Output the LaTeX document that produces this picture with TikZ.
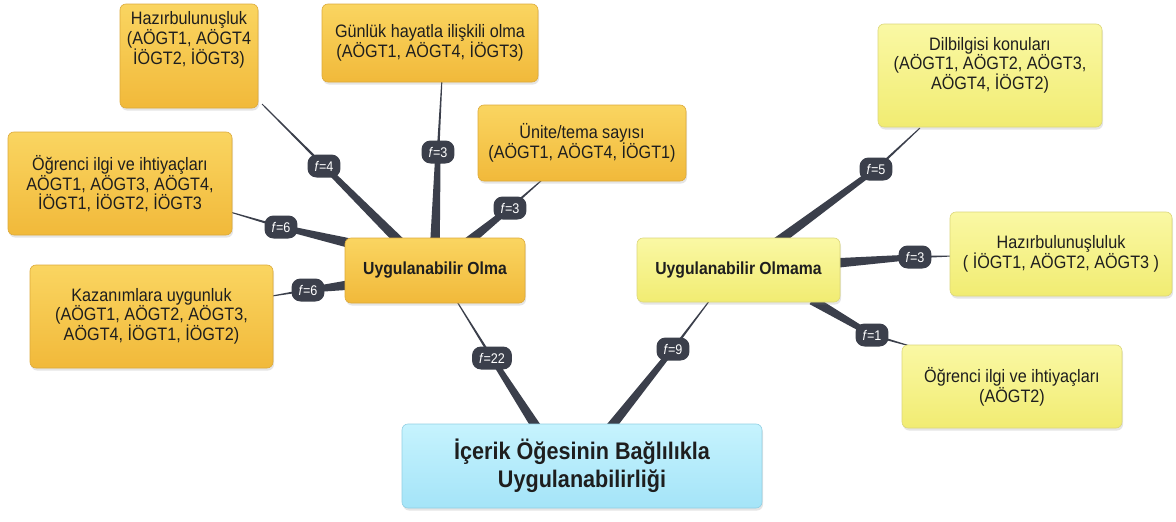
\documentclass[tikz,border=0pt]{standalone}
\usepackage{fontspec}
\setmainfont[FakeStretch=0.9]{Liberation Sans}
\usetikzlibrary{calc,shadows}
\definecolor{orgtop}{HTML}{FAD561}
\definecolor{orgbot}{HTML}{F1B93A}
\definecolor{orgline}{HTML}{DDAA3A}
\definecolor{yeltop}{HTML}{FAF8A4}
\definecolor{yelbot}{HTML}{F1EC72}
\definecolor{yelline}{HTML}{DCD77A}
\definecolor{cyntop}{HTML}{C6F3FE}
\definecolor{cynbot}{HTML}{A4E4F8}
\definecolor{cynline}{HTML}{92D0E4}
\definecolor{linkcol}{HTML}{3B3F4B}
\definecolor{txt}{HTML}{1E1E1E}
\pgfdeclarelayer{bg}
\pgfdeclarelayer{links}
\pgfsetlayers{bg,links,main}
\newcommand\mmtaper[4]{\fill[linkcol] ($(#1)!#3!90:(#2)$) -- ($(#2)!#4!-90:(#1)$) -- ($(#2)!#4!90:(#1)$) -- ($(#1)!#3!-90:(#2)$) -- cycle;}
\newcommand\mmlink[3]{\mmtaper{#1}{#2}{4.8pt}{2.6pt}\mmtaper{#2}{#3}{1.3pt}{0.5pt}}
\tikzset{
  box/.style={rounded corners=6pt, draw, line width=0.6pt, align=center, inner sep=0pt,
    font=\fontsize{18}{18.8}\selectfont, text=txt,
    drop shadow={opacity=0.2, shadow xshift=1pt, shadow yshift=-2.5pt}},
  orgbox/.style={box, draw=orgline, top color=orgtop, bottom color=orgbot},
  yelbox/.style={box, draw=yelline, top color=yeltop, bottom color=yelbot},
  cynbox/.style={box, draw=cynline, top color=cyntop, bottom color=cynbot},
  badge/.style={fill=linkcol, text=white, rounded corners=9pt, minimum height=23pt,
    inner xsep=7pt, inner ysep=0pt, font=\fontsize{14}{15}\selectfont},
}
\newcommand\fv[1]{\textit{f}=#1}
\begin{document}
\begin{tikzpicture}[x=1pt,y=-1pt]
\begin{pgfonlayer}{bg}
\fill[white] (0,0) rectangle (1176,522);
\end{pgfonlayer}
\useasboundingbox (0,0) rectangle (1176,522);

% main nodes
\node[cynbox, minimum width=360pt, minimum height=84pt, font=\fontsize{24}{28}\selectfont\bfseries] (root) at (582,466)
  {İçerik Öğesinin Bağlılıkla\\Uygulanabilirliği};
\node[orgbox, minimum width=180pt, minimum height=65pt, font=\fontsize{17.5}{19}\selectfont\bfseries] (olma) at (435,270.5) {Uygulanabilir Olma};
\node[yelbox, minimum width=203pt, minimum height=64pt, font=\fontsize{17.5}{19}\selectfont\bfseries] (olmama) at (738.5,270) {Uygulanabilir Olmama};

% left children
\node[orgbox, minimum width=138pt, minimum height=104pt] (hazL) at (189,56)
  {Hazırbulunuşluk\\(AÖGT1, AÖGT4\\İÖGT2, İÖGT3)\\[12pt]\strut};
\node[orgbox, minimum width=216pt, minimum height=78pt] (gunluk) at (430,43)
  {Günlük hayatla ilişkili olma\\(AÖGT1, AÖGT4, İÖGT3)};
\node[orgbox, minimum width=208pt, minimum height=76pt] (unite) at (582,143)
  {Ünite/tema sayısı\\(AÖGT1, AÖGT4, İÖGT1)};
\node[orgbox, minimum width=224pt, minimum height=103pt] (ogrL) at (120,183.5)
  {Öğrenci ilgi ve ihtiyaçları\\AÖGT1, AÖGT3, AÖGT4,\\ İÖGT1, İÖGT2, İÖGT3};
\node[orgbox, minimum width=243pt, minimum height=103pt] (kaz) at (151.5,316.5)
  {Kazanımlara uygunluk\\(AÖGT1, AÖGT2, AÖGT3,\\AÖGT4, İÖGT1, İÖGT2)};

% right children
\node[yelbox, minimum width=224pt, minimum height=103pt] (dilb) at (990,75.5)
  {Dilbilgisi konuları\\(AÖGT1, AÖGT2, AÖGT3,\\AÖGT4, İÖGT2)\\ \strut};
\node[yelbox, minimum width=222pt, minimum height=84pt] (hazR) at (1061,254)
  {Hazırbulunuşluluk\\( İÖGT1, AÖGT2, AÖGT3 )};
\node[yelbox, minimum width=220pt, minimum height=83pt] (ogrR) at (1012,386.5)
  {Öğrenci ilgi ve ihtiyaçları\\(AÖGT2)};

% badges
\node[badge] (b1) at (324,166) {\fv{4}};
\node[badge] (b2) at (438,152) {\fv{3}};
\node[badge] (b3) at (510,208) {\fv{3}};
\node[badge] (b4) at (281,227) {\fv{6}};
\node[badge] (b5) at (308,290) {\fv{6}};
\node[badge] (b6) at (492,358) {\fv{22}};
\node[badge] (b7) at (673,349) {\fv{9}};
\node[badge] (b8) at (876,169) {\fv{5}};
\node[badge] (b9) at (915,257) {\fv{3}};
\node[badge] (b10) at (872,335) {\fv{1}};

% connector end points
\coordinate (o1) at (400,242);  \coordinate (e1) at (262,104);
\coordinate (o2) at (435,242);  \coordinate (e2) at (442,78);
\coordinate (o3) at (468,242);  \coordinate (e3) at (542,180);
\coordinate (o4) at (349,243);  \coordinate (e4) at (230,212);
\coordinate (o5) at (349,285);  \coordinate (e5) at (272,296);
\coordinate (o6) at (537,428);  \coordinate (e6) at (456,300);
\coordinate (o7) at (610,428);  \coordinate (e7) at (710,300);
\coordinate (o8) at (777,242);  \coordinate (e8) at (920,128);
\coordinate (o9) at (836,263);  \coordinate (e9) at (952,256);
\coordinate (o10) at (812,300); \coordinate (e10) at (910,346);

\begin{pgfonlayer}{links}
\mmlink{o1}{b1}{e1}
\mmlink{o2}{b2}{e2}
\mmlink{o3}{b3}{e3}
\mmlink{o4}{b4}{e4}
\mmlink{o5}{b5}{e5}
\mmlink{o6}{b6}{e6}
\mmlink{o7}{b7}{e7}
\mmlink{o8}{b8}{e8}
\mmlink{o9}{b9}{e9}
\mmlink{o10}{b10}{e10}
\end{pgfonlayer}
\end{tikzpicture}
\end{document}
